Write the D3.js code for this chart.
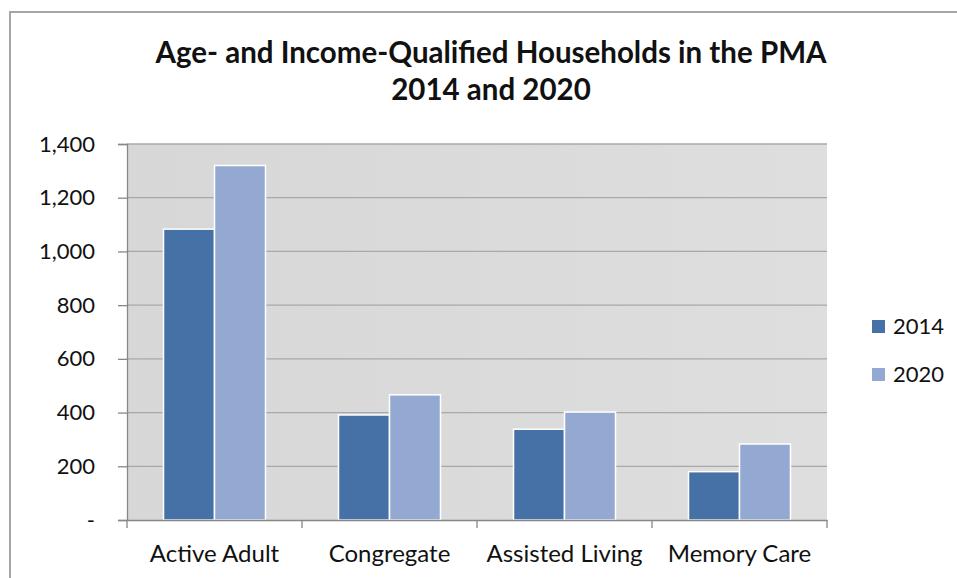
<!DOCTYPE html>
<html>
<head>
<meta charset="utf-8">
<script src="https://cdn.jsdelivr.net/npm/d3@7"></script>
<style>
  html, body { margin: 0; padding: 0; background: #fff; }
  svg { display: block; font-family: Lato, "Open Sans", sans-serif; }
</style>
</head>
<body>
<svg id="chart" width="957" height="578"></svg>
<script>
// Household counts by housing type
const categories = ["Active Adult", "Congregate", "Assisted Living", "Memory Care"];
const seriesNames = ["2014", "2020"];
const values2014 = [1083, 391, 338, 180];
const values2020 = [1320, 466, 402, 283];
const yTicks = [0, 200, 400, 600, 800, 1000, 1200, 1400];
const titleLines = ["Age- and Income-Qualified Households in the PMA", "2014 and 2020"];
const colors = ["#4671a6", "#94a9d1"];

const svg = d3.select("#chart");
const W = 957, H = 578;
const plot = { left: 127, right: 827, top: 144, bottom: 520 };

// Outer chart frame
svg.append("rect")
  .attr("x", 10).attr("y", 12)
  .attr("width", W + 20).attr("height", H + 20)
  .attr("fill", "#fff").attr("stroke", "#a6a6a6").attr("stroke-width", 2);

// Plot background with a soft gradient
const defs = svg.append("defs");
const grad = defs.append("linearGradient").attr("id", "plotBg")
  .attr("x1", 0).attr("y1", 0).attr("x2", 1).attr("y2", 0);
grad.append("stop").attr("offset", "0%").attr("stop-color", "#d7d7d7");
grad.append("stop").attr("offset", "100%").attr("stop-color", "#dedede");

svg.append("rect")
  .attr("x", plot.left).attr("y", plot.top)
  .attr("width", plot.right - plot.left).attr("height", plot.bottom - plot.top)
  .attr("fill", "url(#plotBg)");

const x0 = d3.scaleBand().domain(categories).range([plot.left, plot.right]).paddingInner(0).paddingOuter(0);
const x1 = d3.scaleBand().domain(seriesNames).range([0, 102]);
const y = d3.scaleLinear().domain([0, 1400]).range([plot.bottom, plot.top]);

// Gridlines
svg.append("g").selectAll("line")
  .data(yTicks.filter(t => t > 0))
  .join("line")
  .attr("x1", plot.left).attr("x2", plot.right)
  .attr("y1", d => y(d)).attr("y2", d => y(d))
  .attr("stroke", "#a8a8a8").attr("stroke-width", 1.3);

// Bars
const data = categories.map((c, i) => ({ cat: c, vals: [values2014[i], values2020[i]] }));
const groupOffset = (x0.bandwidth() - 102) / 2;
svg.append("g").selectAll("g")
  .data(data)
  .join("g")
  .attr("transform", d => `translate(${x0(d.cat) + groupOffset},0)`)
  .selectAll("rect")
  .data(d => d.vals.map((v, j) => ({ key: seriesNames[j], v, j })))
  .join("rect")
  .attr("x", d => x1(d.key))
  .attr("width", x1.bandwidth())
  .attr("y", d => y(d.v))
  .attr("height", d => y(0) - y(d.v))
  .attr("fill", d => colors[d.j])
  .attr("stroke", "#ffffff").attr("stroke-width", 1.5);

// Y axis
const yAxis = d3.axisLeft(y).tickValues(yTicks).tickSize(9).tickPadding(23)
  .tickFormat(d => d === 0 ? "-" : d3.format(",")(d));
const gy = svg.append("g").attr("transform", `translate(${plot.left},0)`).call(yAxis);
gy.select(".domain").attr("stroke", "#878787").attr("stroke-width", 1.3);
gy.selectAll(".tick line").attr("stroke", "#878787").attr("stroke-width", 1.3);
gy.selectAll(".tick text").attr("font-size", 22).attr("fill", "#111").attr("font-family", "Lato, sans-serif");

// X axis
const xAxis = d3.axisBottom(x0).tickSize(0).tickPadding(0);
const gx = svg.append("g").attr("transform", `translate(0,${plot.bottom})`).call(xAxis);
gx.select(".domain").attr("stroke", "#878787").attr("stroke-width", 1.3);
gx.selectAll(".tick text").attr("font-size", 24).attr("fill", "#111")
  .attr("font-family", "Lato, sans-serif").attr("dy", null).attr("y", 42);
// Category separator ticks
svg.append("g").selectAll("line")
  .data(categories.map(c => x0(c)).concat([x0(categories[categories.length - 1]) + x0.bandwidth()]))
  .join("line")
  .attr("x1", d => d).attr("x2", d => d)
  .attr("y1", plot.bottom).attr("y2", plot.bottom + 8)
  .attr("stroke", "#878787").attr("stroke-width", 1.3);

// Title
svg.append("g").selectAll("text")
  .data(titleLines)
  .join("text")
  .attr("x", 491).attr("y", (d, i) => 63 + i * 37)
  .attr("text-anchor", "middle")
  .attr("font-size", 29.5).attr("font-weight", "bold").attr("fill", "#111")
  .text(d => d);

// Legend
const legend = svg.append("g").selectAll("g")
  .data(seriesNames)
  .join("g")
  .attr("transform", (d, i) => `translate(872,${320 + i * 48})`);
legend.append("rect").attr("width", 13).attr("height", 13).attr("fill", (d, i) => colors[i]);
legend.append("text").attr("x", 21).attr("y", 6.5).attr("dy", "0.35em")
  .attr("font-size", 22).attr("fill", "#111").text(d => d);
</script>
</body>
</html>
